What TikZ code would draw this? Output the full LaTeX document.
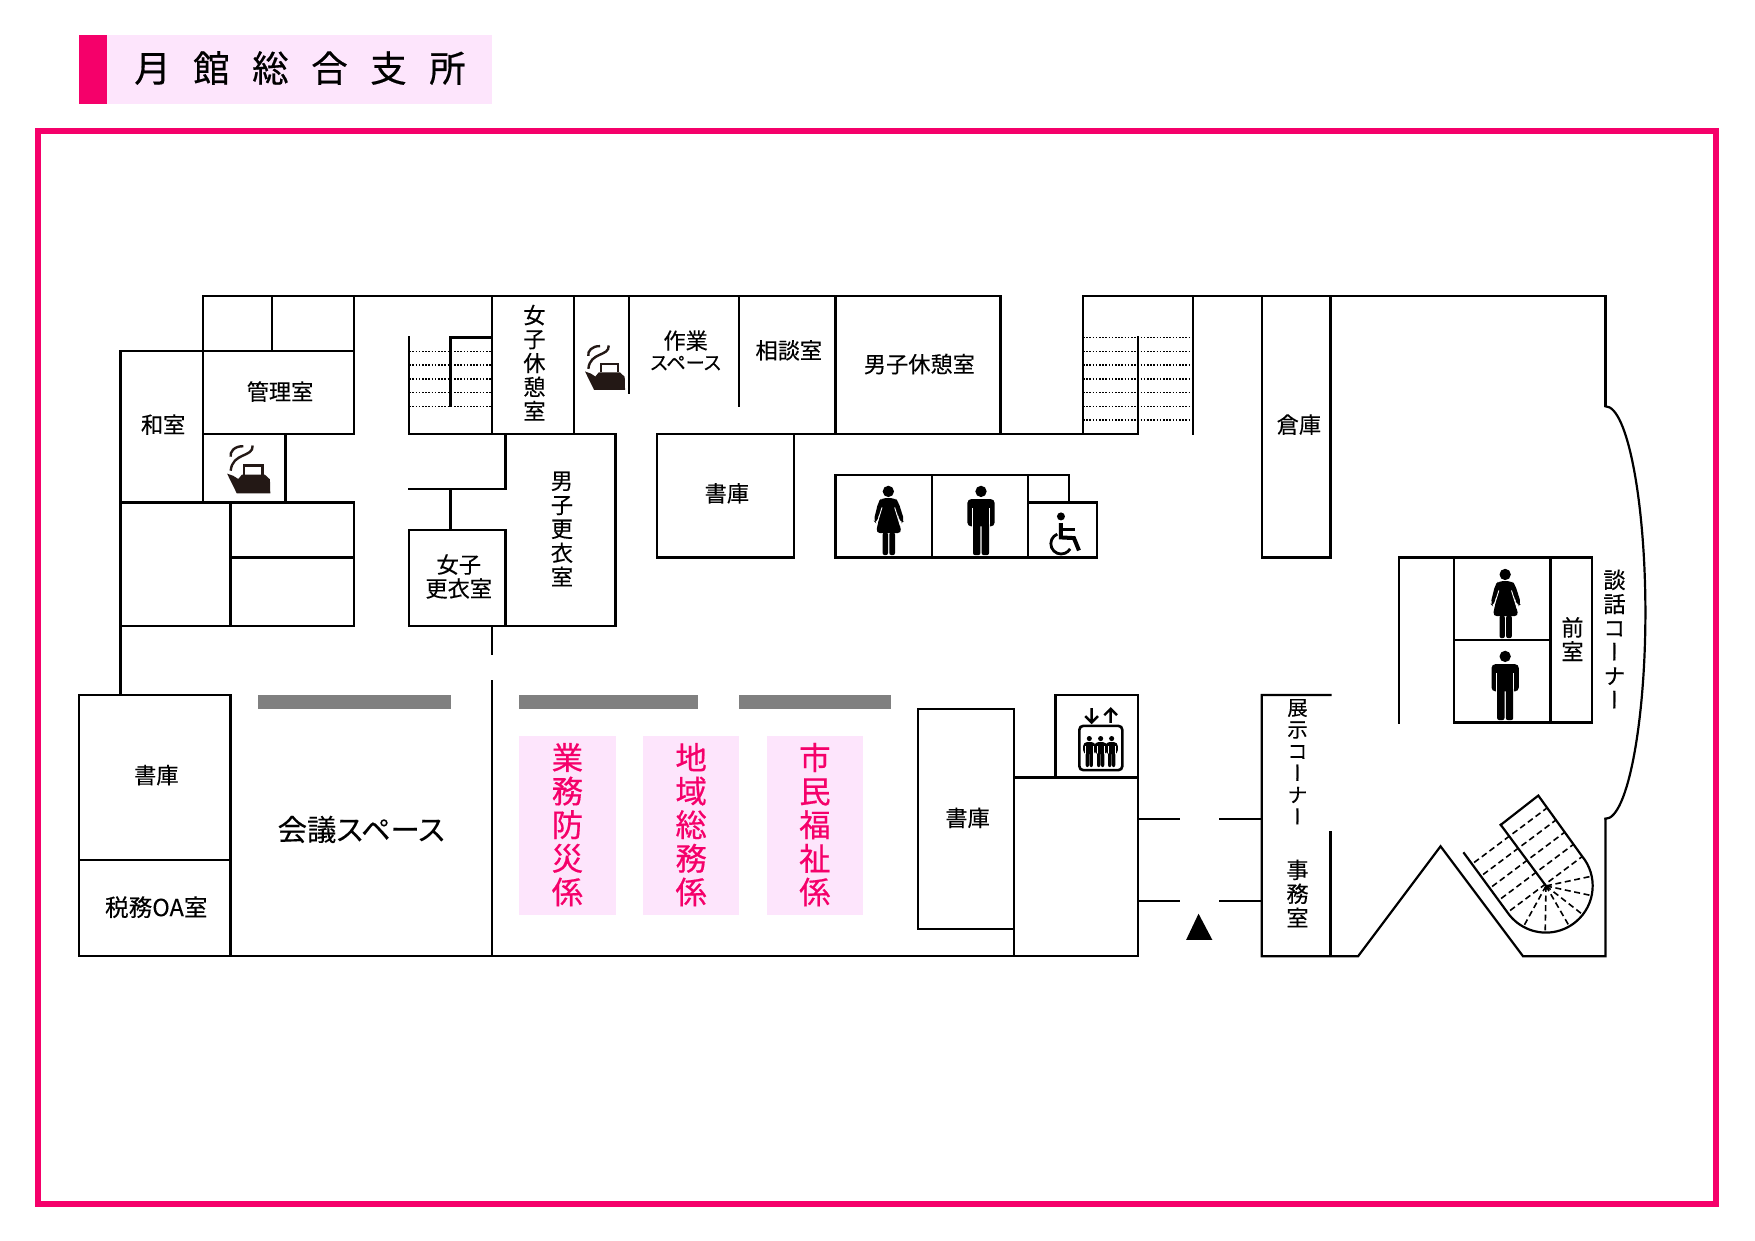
\documentclass[tikz,border=0pt]{standalone}
\usepackage{fontspec}
\setmainfont[RawFeature=+palt,FakeBold=0.2]{Noto Sans CJK JP}
\newfontfamily\tatefont[RawFeature=+vert,FakeBold=0.2]{Noto Sans CJK JP}
\newfontfamily\heavyfont[FakeBold=0.5]{Noto Sans CJK JP}
\usetikzlibrary{positioning,calc}
\definecolor{framepink}{HTML}{F5006A}
\definecolor{palepink}{HTML}{FDE5FC}
\definecolor{kettleblack}{HTML}{231815}

\tikzset{
  wall/.style={draw=black, line width=1.1pt, line cap=rect},
  tread/.style={draw=black, line width=0.8pt, dash pattern=on 0.8pt off 0.8pt},
  spiral/.style={draw=black, line width=0.8pt, dash pattern=on 3pt off 1.8pt},
  room/.style={font=\fontsize{11.1}{12}\selectfont, align=center, inner sep=0pt, yshift=0.5pt},
  corner/.style={font=\fontsize{10.2}{10.9}\selectfont, align=center, inner sep=0pt},
  desk/.style={font=\heavyfont\fontsize{15.7}{16.8}\selectfont, align=center, inner sep=0pt, text=framepink, yshift=0.5pt},
  kettle/.pic={
    \begin{scope}[x=0.1667pt,y=-0.1667pt]
      \fill[kettleblack] (45,122) -- (62,128) -- (76,137) -- (86,125) -- (150,125) -- (164,138) -- (165,177) -- (72,177) -- cycle;
      \draw[kettleblack, line width=1.2pt] (92,125) -- (92,100) -- (143,100) -- (143,125);
      \draw[kettleblack, line width=1.2pt] (90,46) .. controls (65,45) and (52,62) .. (55,75);
      \draw[kettleblack, line width=1.2pt] (116,44) .. controls (118,78) and (60,62) .. (55,114);
    \end{scope}
  },
  woman/.pic={
    \begin{scope}[x=0.1667pt,y=-0.1667pt]
      \fill (0,47) circle[radius=17];
      \fill[rounded corners=2pt] (-20,67) -- (20,67) -- (30,78) -- (48,135) -- (38,143) -- (24,104) -- (40,172) -- (-37,172) -- (-24,104) -- (-36,143) -- (-44,135) -- (-30,78) -- cycle;
      \draw[white, line width=0.45pt] (-19,95) -- (-36,150) (19,95) -- (36,150);
      \fill[rounded corners=1pt] (-17,170) rectangle (-1,238) (3,170) rectangle (20,238);
    \end{scope}
  },
  man/.pic={
    \begin{scope}[x=0.1667pt,y=-0.1667pt]
      \fill (0,47) circle[radius=17];
      \fill[rounded corners=2pt] (-41,70) rectangle (41,152);
      \draw[white, line width=0.4pt] (-25,98) -- (-25,154) (25,98) -- (25,154);
      \fill[rounded corners=1pt] (-24,140) rectangle (-2,238) (2,140) rectangle (24,238);
    \end{scope}
  },
  wheelchair/.pic={
    \begin{scope}[x=0.1667pt,y=-0.1667pt]
      \fill (606,122) circle[radius=12];
      \draw[line width=2pt] (606,142) -- (606,185) -- (645,187) -- (660,224);
      \draw[line width=1.6pt] (606,162) -- (648,162);
      \draw[line width=1.4pt] (595,175) arc[start angle=248, end angle=30, radius=31];
    \end{scope}
  },
  lift/.pic={
    \begin{scope}[x=0.1667pt,y=-0.1667pt]
      \draw[line width=1.3pt, rounded corners=2pt] (28,75) rectangle (157,208);
      \draw[line width=1.2pt] (65,22) -- (65,64) (46,46) -- (65,65) -- (84,46);
      \draw[line width=1.2pt] (122,66) -- (122,24) (103,43) -- (122,24) -- (141,43);
      \foreach \p in {58,92,125} {
        \pic[scale=0.45] at (\p,92) {man};
      }
    \end{scope}
  }
}

\begin{document}
\begin{tikzpicture}[x=6.875pt, y=-6.875pt]

\useasboundingbox (-5.767,-21.55) rectangle (121.87,68.7);

% title
\fill[palepink] (2,-19) rectangle (30,-14);
\fill[framepink] (0,-19) rectangle (2,-14);
\node[inner sep=0pt, font=\heavyfont\fontsize{18.2}{18.2}\selectfont] (title) at (16.05,-16.6) {月\kern11.3pt 館\kern11.3pt 総\kern11.3pt 合\kern11.3pt 支\kern11.3pt 所};
\draw[framepink, line width=3pt] (-3,-12) rectangle (119,66);

% desks
\fill[gray] (13,29) rectangle (27,30);
\fill[gray] (32,29) rectangle (45,30);
\fill[gray] (48,29) rectangle (59,30);
\fill[palepink] (32,32) rectangle (39,45);
\fill[palepink] (41,32) rectangle (48,45);
\fill[palepink] (50,32) rectangle (57,45);

% outer walls
\draw[wall] (9,4) -- (9,0) -- (67,0) -- (67,10);
\draw[wall] (73,10) -- (73,0) -- (111,0) -- (111,8);
\draw[wall] (111,8) .. controls (112.6,8) and (113.9,15) .. (113.9,23) .. controls (113.9,31) and (112.6,38) .. (111,38);
\draw[wall] (111,38) -- (111,48) -- (105,48) -- (99,40) -- (93,48) -- (86,48) -- (86,29) -- (91,29);
\draw[wall] (3,29) -- (3,4) -- (20,4);

% north west rooms
\draw[wall] (14,0) -- (14,4);
\draw[wall] (20,0) -- (20,10) -- (9,10);
\draw[wall] (9,4) -- (9,15);
\draw[wall] (15,10) -- (15,15);
\draw[wall] (3,15) -- (20,15) -- (20,24) -- (3,24);
\draw[wall] (11,15) -- (11,24);
\draw[wall] (11,19) -- (20,19);

% middle rooms
\draw[wall] (30,0) -- (30,10);
\draw[wall] (36,0) -- (36,10);
\draw[wall] (40,0) -- (40,7);
\draw[wall] (48,0) -- (48,8);
\draw[wall] (55,0) -- (55,10);
\draw[wall] (24,3) -- (24,10) -- (39,10) -- (39,24) -- (24,24) -- (24,17) -- (31,17) -- (31,24);
\draw[wall] (31,10) -- (31,14) -- (24,14);
\draw[wall] (27,14) -- (27,17);
\draw[wall] (27,8) -- (27,3) -- (30,3);
\draw[wall] (30,24) -- (30,26);
\draw[wall] (30,28) -- (30,48);
\foreach \k in {4,...,8} {
  \draw[tread] (24,\k) -- (30,\k);
}

% north east stairs
\draw[wall] (42,19) rectangle (52,10);
\draw[wall] (52,10) -- (77,10);
\draw[wall] (77,3) -- (77,10);
\draw[wall] (81,0) -- (81,10);
\foreach \k in {3,...,9} {
  \draw[tread] (73,\k) -- (81,\k);
}

% toilets
\draw[wall] (72,15) -- (72,13) -- (55,13) -- (55,19) -- (74,19) -- (74,15) -- (69,15);
\draw[wall] (62,13) -- (62,19);
\draw[wall] (69,13) -- (69,19);

% store and east side
\draw[wall] (86,0) rectangle (91,19);
\draw[wall] (91,39) -- (91,48);
\draw[wall] (96,31) -- (96,19) -- (110,19) -- (110,31) -- (100,31) -- (100,19);
\draw[wall] (107,19) -- (107,31);
\draw[wall] (100,25) -- (107,25);

% south west rooms
\draw[wall] (0,29) rectangle (11,48);
\draw[wall] (0,41) -- (11,41);
\draw[wall] (11,48) -- (77,48) -- (77,29) -- (71,29) -- (71,35);
\draw[wall] (61,30) rectangle (68,46);
\draw[wall] (68,35) -- (77,35);
\draw[wall] (68,46) -- (68,48);
\draw[wall] (77,38) -- (80,38);
\draw[wall] (83,38) -- (86,38);
\draw[wall] (77,44) -- (80,44);
\draw[wall] (83,44) -- (86,44);
\fill (81.4,44.9) -- (82.4,46.8) -- (80.5,46.8) -- cycle;

% spiral stair
\draw[wall] (103.38,38.44) -- (106.11,36.31) -- (109.27,40.69) arc[start angle=-40, end angle=145, radius=3.4] -- (100.71,40.5);
\draw[wall] (103.38,38.44) -- (106.67,42.88);
\foreach \t in {0,...,4} {
  \draw[spiral] ($(101.44,41.18)+\t*(0.6545,0.8727)$) -- ($(106.72,37.23)+\t*(0.6545,0.8727)$);
}
\foreach \a in {-12,12,38,60,91,119} {
  \draw[spiral] (106.67,42.88) -- ++(\a:3.4);
}

% icons
\pic[scale=1.08] at (9.57,9.7) {kettle};
\pic at (35.69,2.51) {kettle};
\pic at (58.84,13.05) {woman};
\pic at (65.58,13.05) {man};
\pic at (56.7,13.05) {wheelchair};
\pic at (103.7,19.09) {woman};
\pic at (103.7,25.05) {man};
\pic at (72.05,29.42) {lift};

% labels
\node[room] (kanri) at (14.6,7) {管理室};
\node[room] (washitsu) at (6.1,9.4) {和室};
\node[room] (joshikyu) at (33.1,4.9) {女\\子\\休\\憩\\室};
\node[room] (danshikou) at (35.1,17) {男\\子\\更\\衣\\室};
\node[room] (joshikou) at (27.6,20.45) {女子\\更衣室};
\node[room] (sagyou) at (44.1,4) {作業\\[-1.6pt]\fontsize{9.6}{10.5}\selectfont スペース};
\node[room] (soudan) at (51.6,4) {相談室};
\node[room] (danshikyu) at (61.1,5) {男子休憩室};
\node[room] (shoko1) at (47.1,14.4) {書庫};
\node[room] (souko) at (88.7,9.4) {倉庫};
\node[room] (shoko2) at (5.6,34.9) {書庫};
\node[room, font=\fontsize{11.8}{12}\selectfont] (zeimu) at (5.6,44.5) {税務OA室};
\node[room, font=\fontsize{14.7}{16}\selectfont] (kaigi) at (20.5,38.85) {会議スペース};
\node[room] (shoko3) at (64.6,38) {書庫};
\node[corner] (tenji) at (88.6,33.85) {\tatefont 展\\\tatefont 示\\\tatefont コ\\\tatefont ー\\\tatefont ナ\\\tatefont ー};
\node[room] (jimu) at (88.6,43.5) {事\\務\\室};
\node[room] (danwa) at (111.65,25) {\tatefont 談\\\tatefont 話\\\tatefont コ\\\tatefont ー\\\tatefont ナ\\\tatefont ー};
\node[room] (zenshitsu) at (108.6,25) {前\\室};
\node[desk] (gyoumu) at (35.5,38.5) {業\\務\\防\\災\\係};
\node[desk] (chiiki) at (44.5,38.5) {地\\域\\総\\務\\係};
\node[desk] (shimin) at (53.5,38.5) {市\\民\\福\\祉\\係};

\end{tikzpicture}
\end{document}
